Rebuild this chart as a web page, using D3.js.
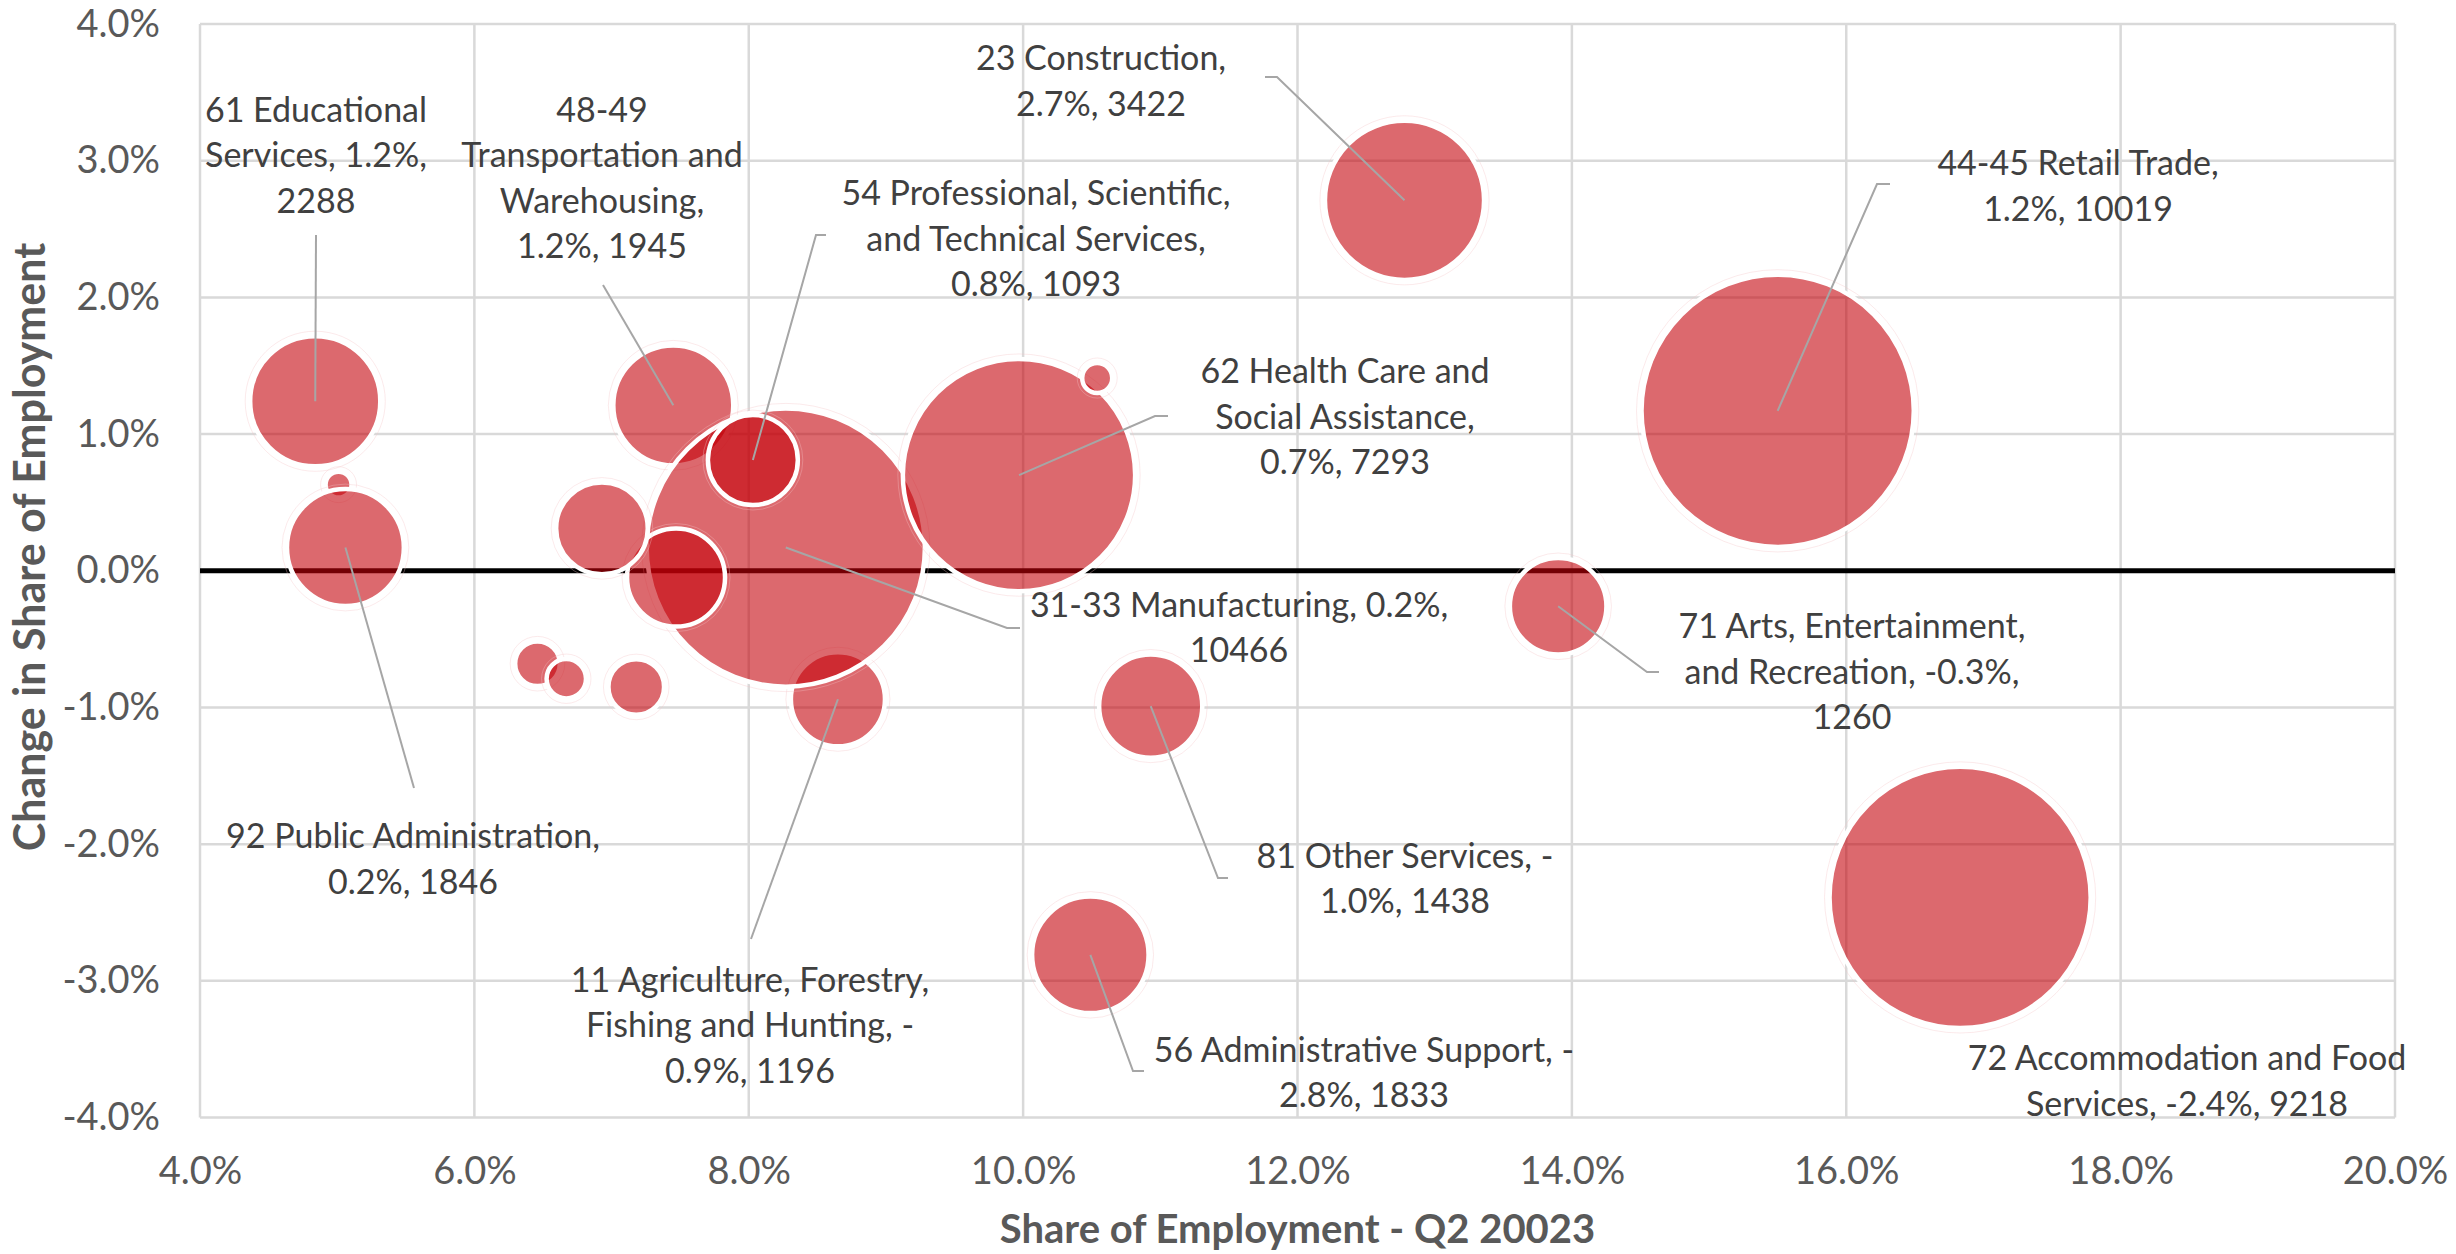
<!DOCTYPE html>
<html>
<head>
<meta charset="utf-8">
<script src="https://cdn.jsdelivr.net/npm/d3@7"></script>
<style>
  html, body { margin: 0; padding: 0; background: #ffffff; }
  svg { display: block; }
</style>
</head>
<body>
<svg id="chart" width="2456" height="1254"></svg>
<script>
// Industry sectors, in drawing order (later bubbles sit on top).
// Sectors without a data label are kept as null.
const industries = [
  "61 Educational Services",
  null,
  "92 Public Administration",
  "11 Agriculture, Forestry, Fishing and Hunting",
  "48-49 Transportation and Warehousing",
  "31-33 Manufacturing",
  null,
  null,
  "54 Professional, Scientific, and Technical Services",
  null,
  null,
  null,
  "62 Health Care and Social Assistance",
  null,
  "23 Construction",
  "81 Other Services",
  "56 Administrative Support",
  "71 Arts, Entertainment, and Recreation",
  "44-45 Retail Trade",
  "72 Accommodation and Food Services"
];

// Share of employment, Q2 (%)
const shareOfEmployment = [
  4.84, 5.01, 5.06, 8.65, 7.45, 8.27, 7.47, 6.93, 8.03, 6.46,
  6.67, 7.18, 9.97, 10.54, 12.78, 10.93, 10.49, 13.90, 15.50, 16.83
];

// Change in share of employment (percentage points)
const changeInShare = [
  1.24, 0.63, 0.17, -0.94, 1.21, 0.17, -0.05, 0.31, 0.81, -0.68,
  -0.79, -0.85, 0.70, 1.41, 2.71, -0.99, -2.81, -0.26, 1.17, -2.39
];

// Bubble size (employment count)
const employment = [
  2288, 91, 1846, 1196, 1945, 10466, 1298, 1134, 1093, 269,
  210, 418, 7293, 122, 3422, 1438, 1833, 1260, 10019, 9218
];

// Data label text, one entry per sector ("" = no label)
const labelText = [
  "61 Educational\nServices, 1.2%,\n2288",
  "",
  "92 Public Administration,\n0.2%, 1846",
  "11 Agriculture, Forestry,\nFishing and Hunting, -\n0.9%, 1196",
  "48-49\nTransportation and\nWarehousing,\n1.2%, 1945",
  "31-33 Manufacturing, 0.2%,\n10466",
  "",
  "",
  "54 Professional, Scientific,\nand Technical Services,\n0.8%, 1093",
  "",
  "",
  "",
  "62 Health Care and\nSocial Assistance,\n0.7%, 7293",
  "",
  "23 Construction,\n2.7%, 3422",
  "81 Other Services, -\n1.0%, 1438",
  "56 Administrative Support, -\n2.8%, 1833",
  "71 Arts, Entertainment,\nand Recreation, -0.3%,\n1260",
  "44-45 Retail Trade,\n1.2%, 10019",
  "72 Accommodation and Food\nServices, -2.4%, 9218"
];

const xTicks = [4, 6, 8, 10, 12, 14, 16, 18, 20];
const yTicks = [-4, -3, -2, -1, 0, 1, 2, 3, 4];

const xTitle = "Share of Employment - Q2 20023";
const yTitle = "Change in Share of Employment";

// ---- layout ----
const W = 2456, H = 1254;
const plot = { left: 200, right: 2395, top: 24, bottom: 1117.5 };
const FONT = "Lato, 'Open Sans', 'DejaVu Sans', sans-serif";
const LINE_H = 45.5;

// Label placement: text centre x, first baseline y, leader-line anchor points
// (leader runs from the last anchor point to the bubble centre).
const labelLayout = {
  0:  { cx: 316,  by: 121.7, leader: [[316, 235]] },
  2:  { cx: 413,  by: 848.3, leader: [[414, 788]] },
  3:  { cx: 750,  by: 991.7, leader: [[751, 939]] },
  4:  { cx: 602,  by: 121.7, leader: [[603, 285]] },
  5:  { cx: 1239, by: 616.7, leader: [[1020, 628], [1007, 628]] },
  8:  { cx: 1036, by: 205,   leader: [[826, 235], [816, 235]] },
  12: { cx: 1345, by: 383,   leader: [[1168, 416], [1155, 416]] },
  14: { cx: 1101, by: 70,    leader: [[1265, 77], [1277, 77]] },
  15: { cx: 1405, by: 867.5, leader: [[1228, 878], [1218, 878]] },
  16: { cx: 1364, by: 1061.7, leader: [[1144, 1071], [1133, 1071]] },
  17: { cx: 1852, by: 638.4, leader: [[1659, 672], [1647, 672]] },
  18: { cx: 2078, by: 175,   leader: [[1890, 184], [1877, 184]] },
  19: { cx: 2187, by: 1070,  leader: null }
};

const data = industries.map((name, i) => ({
  i, name,
  share: shareOfEmployment[i],
  change: changeInShare[i],
  size: employment[i],
  label: labelText[i]
}));

const x = d3.scaleLinear().domain([4, 20]).range([plot.left, plot.right]);
const y = d3.scaleLinear().domain([-4, 4]).range([plot.bottom, plot.top]);
const r = d3.scaleSqrt().domain([0, 10000]).range([0, 136]);

const svg = d3.select("#chart");
svg.append("rect").attr("width", W).attr("height", H).attr("fill", "#ffffff");

// ---- gridlines ----
const grid = svg.append("g").attr("class", "grid");
grid.selectAll("line.v").data(xTicks).join("line")
  .attr("class", "v")
  .attr("x1", d => x(d)).attr("x2", d => x(d))
  .attr("y1", plot.top).attr("y2", plot.bottom)
  .attr("stroke", "#d9d9d9").attr("stroke-width", 2.5);
grid.selectAll("line.h").data(yTicks).join("line")
  .attr("class", "h")
  .attr("x1", plot.left).attr("x2", plot.right)
  .attr("y1", d => y(d)).attr("y2", d => y(d))
  .attr("stroke", "#d9d9d9").attr("stroke-width", 2.5);

// zero line (horizontal axis)
svg.append("line")
  .attr("x1", plot.left).attr("x2", plot.right)
  .attr("y1", y(0)).attr("y2", y(0))
  .attr("stroke", "#000000").attr("stroke-width", 5);

// ---- axes (tick labels only) ----
const yAxis = svg.append("g")
  .attr("transform", `translate(${plot.left},0)`)
  .call(d3.axisLeft(y).tickValues(yTicks).tickSize(0).tickPadding(40)
    .tickFormat(d => d.toFixed(1) + "%"));
const xAxis = svg.append("g")
  .attr("transform", `translate(0,${plot.bottom})`)
  .call(d3.axisBottom(x).tickValues(xTicks).tickSize(0).tickPadding(40)
    .tickFormat(d => d.toFixed(1) + "%"));
[yAxis, xAxis].forEach(g => {
  g.select(".domain").remove();
  g.selectAll("text")
    .attr("font-family", FONT).attr("font-size", 38).attr("fill", "#595959");
});

// axis titles
svg.append("text")
  .attr("x", (plot.left + plot.right) / 2).attr("y", 1243)
  .attr("text-anchor", "middle")
  .attr("font-family", FONT).attr("font-size", 40).attr("font-weight", "bold")
  .attr("fill", "#595959")
  .text(xTitle);
svg.append("text")
  .attr("transform", "translate(45,547) rotate(-90)")
  .attr("text-anchor", "middle")
  .attr("font-family", FONT).attr("font-size", 43).attr("font-weight", "bold")
  .attr("fill", "#595959")
  .text(yTitle);

// ---- bubbles ----
const bubbles = svg.append("g").attr("class", "bubbles");
const bubble = bubbles.selectAll("g").data(data).join("g")
  .attr("transform", d => `translate(${x(d.share)},${y(d.change)})`);
bubble.append("circle")
  .attr("r", d => r(d.size) + 5)
  .attr("fill", "none")
  .attr("stroke", "#f3c4c7").attr("stroke-width", 1).attr("stroke-opacity", 0.35);
bubble.append("circle")
  .attr("r", d => r(d.size))
  .attr("fill", "#c30008").attr("fill-opacity", 0.59)
  .attr("stroke", "#ffffff").attr("stroke-width", 4.5);

// ---- leader lines ----
const labelled = data.filter(d => d.label && labelLayout[d.i]);
svg.append("g").attr("class", "leaders")
  .selectAll("polyline").data(labelled.filter(d => labelLayout[d.i].leader)).join("polyline")
  .attr("points", d => labelLayout[d.i].leader.concat([[x(d.share), y(d.change)]])
    .map(p => p.join(",")).join(" "))
  .attr("fill", "none")
  .attr("stroke", "#a6a6a6").attr("stroke-width", 2);

// ---- data labels ----
const labels = svg.append("g").attr("class", "labels")
  .selectAll("text").data(labelled).join("text")
  .attr("text-anchor", "middle")
  .attr("font-family", FONT).attr("font-size", 34)
  .attr("fill", "#404040");
labels.each(function(d) {
  const L = labelLayout[d.i];
  d3.select(this).selectAll("tspan").data(d.label.split("\n")).join("tspan")
    .attr("x", L.cx)
    .attr("y", (t, k) => L.by + k * LINE_H)
    .text(t => t);
});
</script>
</body>
</html>
